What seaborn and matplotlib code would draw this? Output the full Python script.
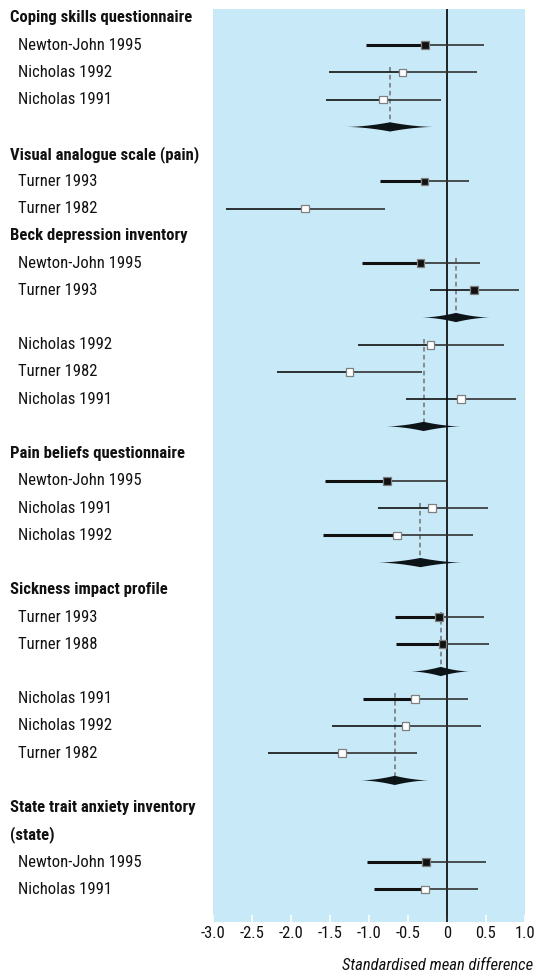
import numpy as np
import pandas as pd
import matplotlib
matplotlib.use('Agg')
import matplotlib.pyplot as plt
import seaborn as sns
from matplotlib import font_manager as fm
from matplotlib.transforms import blended_transform_factory

# ---------------- data ----------------
headers = ["Coping skills questionnaire", "Visual analogue scale (pain)",
           "Beck depression inventory", "Pain beliefs questionnaire",
           "Sickness impact profile", "State trait anxiety inventory", "(state)"]
header_rows = [0, 5, 8, 16, 21, 29, 30]

studies = ["Newton-John 1995", "Nicholas 1992", "Nicholas 1991",
           "Turner 1993", "Turner 1982",
           "Newton-John 1995", "Turner 1993", "Nicholas 1992", "Turner 1982", "Nicholas 1991",
           "Newton-John 1995", "Nicholas 1991", "Nicholas 1992",
           "Turner 1993", "Turner 1988", "Nicholas 1991", "Nicholas 1992", "Turner 1982",
           "Newton-John 1995", "Nicholas 1991"]
study_rows = [1, 2, 3, 6, 7, 9, 10, 12, 13, 14, 17, 18, 19, 22, 23, 25, 26, 27, 31, 32]
estimates = [-0.28, -0.57, -0.82, -0.29, -1.82, -0.34, 0.35, -0.21, -1.25, 0.18,
             -0.77, -0.19, -0.64, -0.10, -0.06, -0.41, -0.53, -1.35, -0.27, -0.28]
ci_low = [-1.04, -1.51, -1.55, -0.86, -2.83, -1.09, -0.22, -1.14, -2.18, -0.53,
          -1.56, -0.89, -1.59, -0.67, -0.65, -1.08, -1.47, -2.29, -1.03, -0.94]
ci_high = [0.47, 0.38, -0.08, 0.28, -0.80, 0.42, 0.92, 0.73, -0.32, 0.89,
           0.00, 0.53, 0.33, 0.48, 0.54, 0.27, 0.43, -0.39, 0.50, 0.40]
study_type = ["filled", "open", "open", "filled", "open", "filled", "filled", "open", "open", "open",
              "filled", "open", "open", "filled", "filled", "open", "open", "open", "filled", "open"]

pooled_rows = [4, 11, 15, 20, 24, 28]
pooled_est = [-0.73, 0.115, -0.30, -0.34, -0.08, -0.67]
pooled_low = [-1.30, -0.33, -0.79, -0.90, -0.47, -1.12]
pooled_high = [-0.16, 0.56, 0.19, 0.21, 0.30, -0.22]
pooled_first_row = [2, 9, 12, 18, 22, 25]

tick_values = [-3.0, -2.5, -2.0, -1.5, -1.0, -0.5, 0.0, 0.5, 1.0]
tick_labels = ["-3.0", "-2.5", "-2.0", "-1.5", "-1.0", "-0.5", "0", "0.5", "1.0"]
x_label = "Standardised mean difference"

# style only: heavier left arm of the interval
heavy_left = [True, False, False, True, False, True, False, False, False, False,
              True, False, True, True, True, True, False, False, True, True]

# ---------------- fonts: look for a narrow / condensed face ----------------
sns.set_style('white')


def _is_narrow(f):
    n = (f.name + ' ' + f.fname).lower()
    return ('narrow' in n or 'condensed' in n) and 'semi' not in n and 'extra' not in n


narrow = [f for f in fm.fontManager.ttflist if _is_narrow(f)]
pref = ['Liberation Sans Narrow', 'DejaVu Sans Condensed', 'Roboto Condensed',
        'Noto Sans', 'Open Sans', 'Inter', 'Lato']


def pick(weight_bold, italic):
    for p in pref:
        for f in narrow:
            if f.name != p:
                continue
            w = f.weight if isinstance(f.weight, int) else (700 if 'bold' in str(f.weight) else 400)
            isb = w >= 600
            isi = f.style in ('italic', 'oblique')
            if isb == weight_bold and isi == italic:
                return fm.FontProperties(fname=f.fname)
    return None


fp_reg = pick(False, False)
fp_bold = pick(True, False)
fp_ital = pick(False, True)
size_scale = 1.0
if fp_reg is None:
    fp_reg = fm.FontProperties(family='Liberation Sans')
    fp_bold = fm.FontProperties(family='Liberation Sans', weight='bold')
    fp_ital = fm.FontProperties(family='Liberation Sans', style='italic')
    size_scale = 0.82
if fp_bold is None:
    fp_bold = fp_reg.copy()
    fp_bold.set_weight('bold')
if fp_ital is None:
    fp_ital = fp_reg.copy()
    fp_ital.set_style('italic')

fp_reg.set_size(12.0 * size_scale)
fp_bold.set_size(12.0 * size_scale)
fp_ital.set_size(12.0 * size_scale)

# ---------------- figure ----------------
fig = plt.figure(figsize=(5.36, 9.75), dpi=100)
ax = fig.add_axes([213 / 536, 1 - 922 / 975, 312 / 536, 913 / 975])
ax.set_facecolor('#c8e9f8')
for s in ax.spines.values():
    s.set_visible(False)

ax.set_xlim(-3.0, 1.0)
ax.set_ylim(33.2, -0.33)

ax.axvline(0, color='black', lw=1.2, zorder=2)

# confidence intervals
for i in range(len(studies)):
    r = study_rows[i]
    ax.hlines(r, ci_low[i], estimates[i], color='#111111',
              lw=2.2 if heavy_left[i] else 1.2, zorder=3)
    ax.hlines(r, estimates[i], ci_high[i], color='#333333', lw=1.2, zorder=3)

# dashed pooled reference lines and diamonds
half_h = 0.17
u = np.linspace(0, 1, 40)
for j in range(len(pooled_rows)):
    r = pooled_rows[j]
    ax.vlines(pooled_est[j], pooled_first_row[j] - 0.2, r, color='#707070',
              lw=1.1, linestyles=(0, (3, 2.2)), zorder=2.5)
    xl = pooled_low[j] + (pooled_est[j] - pooled_low[j]) * u
    xr = pooled_est[j] + (pooled_high[j] - pooled_est[j]) * u
    yl = half_h * (u ** 1.8)
    yr = half_h * ((1 - u) ** 1.8)
    xt = np.concatenate([xl, xr])
    yt = np.concatenate([yl, yr])
    xs = np.concatenate([xt, xt[::-1]])
    ys = np.concatenate([r - yt, (r + yt)[::-1]])
    ax.fill(xs, ys, color='#0d1418', lw=0, zorder=4)

# point estimates
df = pd.DataFrame({"est": estimates, "row": study_rows, "type": study_type})
sns.scatterplot(data=df, x="est", y="row", hue="type", style="type",
                palette={"filled": "#111111", "open": "white"},
                markers={"filled": "s", "open": "s"},
                s=30, edgecolor='#808080', linewidth=0.9, legend=False,
                zorder=5, ax=ax)
ax.set_xlabel("")
ax.set_ylabel("")
ax.set_yticks([])

ax.set_xticks(tick_values)
ax.set_xticklabels(tick_labels, fontproperties=fp_reg, color='#111111')
ax.tick_params(axis='x', direction='in', color='white', length=5, width=1.2,
               pad=3, bottom=True)

# row labels
tr = blended_transform_factory(fig.transFigure, ax.transData)
for h, r in zip(headers, header_rows):
    ax.text(10 / 536, r, h, transform=tr, ha='left', va='center',
            fontproperties=fp_bold, color='#111111')
for s_, r in zip(studies, study_rows):
    ax.text(18 / 536, r, s_, transform=tr, ha='left', va='center',
            fontproperties=fp_reg, color='#111111')

fig.text(533 / 536, 1 - 966 / 975, x_label, ha='right', va='center',
         fontproperties=fp_ital, color='#111111')

fig.savefig('out.png', dpi=100)
